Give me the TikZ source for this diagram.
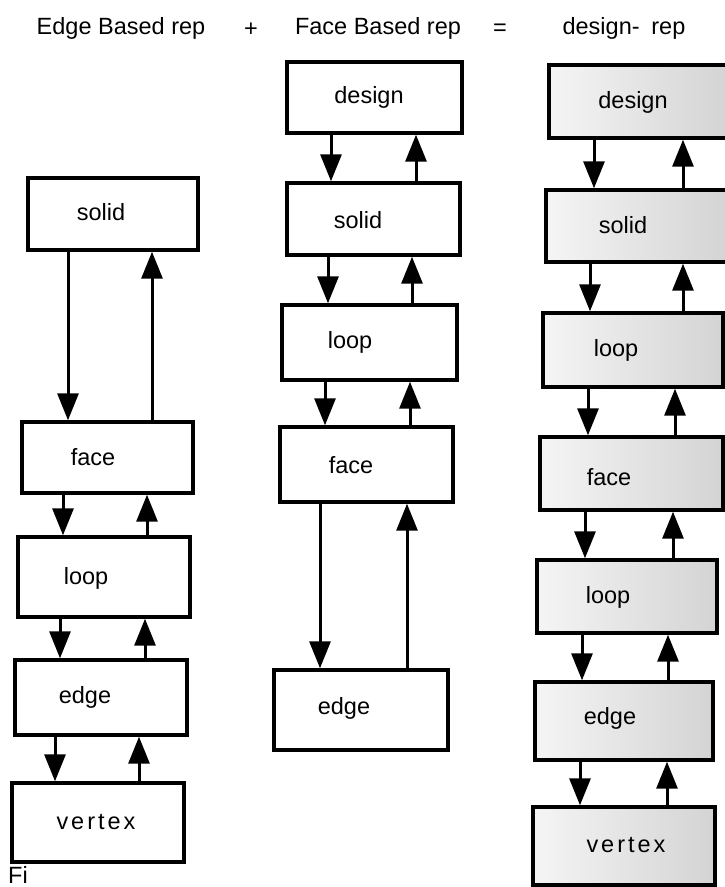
\documentclass[tikz,border=0pt]{standalone}
\usepackage{fontspec}
\setmainfont{Liberation Sans}
\usetikzlibrary{arrows.meta,fit}
\newcommand\mkbox[6]{\node[#1, fit={(#3,#4) (#5,#6)}] (#2) {};}
\newcommand\arrpair[4]{%
  \coordinate (xd) at (#3,0);
  \coordinate (xu) at (#4,0);
  \draw[arr] (#1.south -| xd) -- (#2.north -| xd);
  \draw[arr] (#2.north -| xu) -- (#1.south -| xu);}
\begin{document}
\begin{tikzpicture}[x=1pt,y=-1pt,
  box/.style={draw, line width=3.4pt, inner sep=0pt},
  shbox/.style={box, left color=black!4, right color=black!17},
  lbl/.style={inner sep=0pt, font=\fontsize{23.5}{27}\selectfont},
  hdr/.style={inner sep=0pt, font=\fontsize{23.5}{27}\selectfont},
  arr/.style={line width=3pt, -{Triangle[length=27pt,width=21pt]}}]
\useasboundingbox[fill=white] (0,0) rectangle (724,887);

% headers
\node[hdr] (h1) at (121,28) {Edge Based rep};
\node[hdr] (hp) at (251,30) {+};
\node[hdr] (h2) at (378,28) {Face Based rep};
\node[hdr] (he) at (500,30) {=};
\node[hdr] (h3) at (624,28) {design-\hspace{0.5em}rep};

% column 1
\mkbox{box}{s1}{28}{178}{198}{250}
\mkbox{box}{f1}{22}{422}{193}{493}
\mkbox{box}{l1}{18}{537}{190}{617}
\mkbox{box}{e1}{15}{660}{187}{735}
\mkbox{box}{v1}{12}{783}{184}{862}
\node[lbl] (s1t) at (101,212) {solid};
\node[lbl] (f1t) at (93,457) {face};
\node[lbl] (l1t) at (86,578) {loop};
\node[lbl] (e1t) at (85,697) {edge};
\node[lbl] (v1t) at (96,822) {v\kern3pt e\kern3pt r\kern3pt t\kern3pt e\kern3pt x};
\arrpair{s1}{f1}{68}{152}
\arrpair{f1}{l1}{63}{147}
\arrpair{l1}{e1}{60}{145}
\arrpair{e1}{v1}{55}{139}

% column 2
\mkbox{box}{d2}{287}{62}{462}{133}
\mkbox{box}{s2}{287}{183}{460}{255}
\mkbox{box}{l2}{282}{305}{457}{380}
\mkbox{box}{f2}{280}{427}{453}{502}
\mkbox{box}{e2}{274}{670}{448}{750}
\node[lbl] (d2t) at (369,97) {design};
\node[lbl] (s2t) at (358,220) {solid};
\node[lbl] (l2t) at (350,342) {loop};
\node[lbl] (f2t) at (351,465) {face};
\node[lbl] (e2t) at (344,708) {edge};
\arrpair{d2}{s2}{331}{416}
\arrpair{s2}{l2}{328}{412}
\arrpair{l2}{f2}{325}{410}
\arrpair{f2}{e2}{320}{407}

% column 3
\mkbox{shbox}{d3}{549}{65}{728}{138}
\mkbox{shbox}{s3}{546}{190}{728}{262}
\mkbox{shbox}{l3}{543}{313}{723}{387}
\mkbox{shbox}{f3}{540}{437}{723}{510}
\mkbox{shbox}{m3}{537}{560}{717}{633}
\mkbox{shbox}{e3}{535}{682}{713}{760}
\mkbox{shbox}{v3}{533}{807}{715}{885}
\node[lbl] (d3t) at (633,102) {design};
\node[lbl] (s3t) at (623,225) {solid};
\node[lbl] (l3t) at (616,350) {loop};
\node[lbl] (f3t) at (609,477) {face};
\node[lbl] (m3t) at (608,597) {loop};
\node[lbl] (e3t) at (610,718) {edge};
\node[lbl] (v3t) at (626,845) {v\kern3pt e\kern3pt r\kern3pt t\kern3pt e\kern3pt x};
\arrpair{d3}{s3}{594}{683}
\arrpair{s3}{l3}{590}{683}
\arrpair{l3}{f3}{588}{675}
\arrpair{f3}{m3}{585}{673}
\arrpair{m3}{e3}{582}{668}
\arrpair{e3}{v3}{580}{667}

% caption (cut off in the reference)
\node[lbl, anchor=north west] (cap) at (8,866) {Fi};
\end{tikzpicture}
\end{document}
